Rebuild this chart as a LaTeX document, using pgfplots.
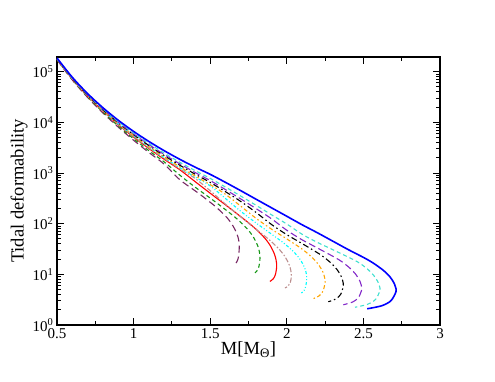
\documentclass[border=0pt]{standalone}
\usepackage{fontspec}
\setmainfont{Liberation Serif}
\usepackage{pgfplots}
\pgfplotsset{compat=1.18}

% grace-like palette
\definecolor{gmaroon}{RGB}{120,40,100}
\definecolor{ggreen}{RGB}{20,150,20}
\definecolor{gred}{RGB}{255,0,0}
\definecolor{gbrown}{RGB}{188,143,143}
\definecolor{gcyan}{RGB}{0,255,255}
\definecolor{gorange}{RGB}{255,165,0}
\definecolor{gviolet}{RGB}{130,40,200}
\definecolor{gturq}{RGB}{64,224,208}
\definecolor{gblue}{RGB}{0,0,255}

\begin{document}
\begin{tikzpicture}
\useasboundingbox (-57pt,-57pt) rectangle (438pt,325pt);
\begin{axis}[
    at={(0pt,0pt)}, anchor=south west,
    scale only axis, width=383pt, height=268pt,
    xmin=0.5, xmax=3, ymin=1, ymax=1.95e5, ymode=log,
    xtick={0.5,1,1.5,2,2.5,3}, xticklabels={0.5,1,1.5,2,2.5,3},
    minor x tick num=1,
    ytick={1,10,100,1000,10000,100000},
    yticklabels={10\textsuperscript{0},10\textsuperscript{1},10\textsuperscript{2},10\textsuperscript{3},10\textsuperscript{4},10\textsuperscript{5}},
    tick align=inside, tick pos=both,
    major tick length=7pt, minor tick length=4pt,
    every tick/.style={black, line width=0.9pt},
    axis line style={line width=1.2pt},
    ticklabel style={font=\fontsize{15}{15}\selectfont},
    label style={font=\fontsize{18.5}{20}\selectfont},
    xlabel={M[M\textsubscript{Θ}]},
    ylabel={Tidal deformability},
    xlabel style={at={(axis description cs:0.5,-0.093)}, anchor=center},
    ylabel style={at={(axis description cs:-0.099,0.5)}, anchor=center},
    every axis plot/.append style={smooth, line width=1.1pt},
]
% maroon, long dashed
\addplot[gmaroon, dash pattern=on 7pt off 4pt] coordinates {
(0.5,171000)(0.6,68500)(0.7,31000)(0.8,15300)(0.9,8040)(1.0,4430)(1.1,2540)(1.2,1490)
(1.3,745)(1.4,449)(1.45,347)(1.5,264)(1.54,211)(1.61,131)(1.65,89.1)(1.675,62.4)
(1.686,47.5)(1.69,35.5)(1.686,23.7)(1.679,19.1)(1.668,16.6)};
% green, dashed
\addplot[ggreen, dash pattern=on 4pt off 3pt] coordinates {
(0.5,174000)(0.6,70000)(0.7,31900)(0.8,15900)(0.9,8450)(1.0,4740)(1.1,2760)(1.2,1652)
(1.3,916)(1.4,530)(1.5,320)(1.6,189)(1.675,124)(1.745,76.9)(1.785,52.5)(1.81,36.7)
(1.821,28.0)(1.825,20.9)(1.819,14.7)(1.809,12.1)(1.792,10.7)};
% red, solid
\addplot[gred] coordinates {
(0.5,177000)(0.6,71600)(0.7,33000)(0.8,16700)(0.9,8990)(1.0,5120)(1.1,3040)(1.2,1862)
(1.3,1170)(1.4,682)(1.5,399)(1.6,235)(1.7,137)(1.784,85.5)(1.854,52.8)(1.894,36.1)
(1.919,25.2)(1.930,19.2)(1.934,14.4)(1.926,10.0)(1.912,8.18)(1.890,7.24)};
% brown, dash dot
\addplot[gbrown, dash pattern=on 5pt off 2pt on 1.5pt off 2pt] coordinates {
(0.5,177400)(0.6,72100)(0.7,33300)(0.8,16900)(0.9,9140)(1.0,5240)(1.1,3130)(1.2,1930)
(1.3,1219)(1.4,789)(1.5,447)(1.6,242)(1.7,136)(1.8,77.3)(1.88,49.7)(1.95,31.4)
(1.99,21.9)(2.015,15.6)(2.026,12.0)(2.030,9.12)(2.0226,6.89)(2.0092,5.90)(1.988,5.37)};
% cyan, dash dot dot
\addplot[gcyan, dash pattern=on 3pt off 2pt on 1pt off 2pt on 1pt off 2pt] coordinates {
(0.5,178500)(0.6,72800)(0.7,33700)(0.8,17200)(0.9,9350)(1.0,5380)(1.1,3240)(1.2,2010)
(1.3,1282)(1.4,838)(1.5,557)(1.6,313)(1.7,175)(1.8,103)(1.9,62.2)(1.98,41.4)
(2.05,26.9)(2.09,19.1)(2.115,13.8)(2.126,10.8)(2.130,8.32)(2.1238,5.83)(2.1127,4.81)(2.095,4.27)};
% orange, dash dot
\addplot[gorange, dash pattern=on 4pt off 2.5pt on 1.5pt off 2.5pt] coordinates {
(0.5,179300)(0.6,73300)(0.7,34000)(0.8,17400)(0.9,9520)(1.0,5510)(1.1,3330)(1.2,2080)
(1.3,1337)(1.4,879)(1.5,590)(1.6,380)(1.7,221)(1.8,127)(1.9,78.0)(2.0,50.0)
(2.1,31.5)(2.17,20.9)(2.21,15.1)(2.235,11.2)(2.246,8.86)(2.250,6.92)(2.2364,4.68)
(2.2119,3.78)(2.173,3.31)};
% black, long dash dot
\addplot[black, dash pattern=on 6pt off 3pt on 1.5pt off 3pt] coordinates {
(0.5,180700)(0.6,74100)(0.7,34700)(0.8,17800)(0.9,9820)(1.0,5730)(1.1,3490)(1.2,2210)
(1.3,1436)(1.4,957)(1.5,652)(1.6,427)(1.7,274)(1.8,166)(1.9,96.4)(2.0,60.7)
(2.1,40.5)(2.219,24.5)(2.289,16.7)(2.329,12.3)(2.354,9.25)(2.365,7.43)(2.369,5.89)
(2.3518,4.04)(2.3205,3.28)(2.271,2.88)};
% violet, long dashed
\addplot[gviolet, dash pattern=on 7pt off 3.5pt] coordinates {
(0.5,182000)(0.6,74800)(0.7,35200)(0.8,18200)(0.9,10070)(1.0,5920)(1.1,3640)(1.2,2320)
(1.3,1528)(1.4,1029)(1.5,710)(1.6,470)(1.7,307)(1.8,198)(1.9,125)(2.0,74.1)
(2.1,48.0)(2.2,33.1)(2.339,19.5)(2.409,13.5)(2.449,10.1)(2.474,7.69)(2.485,6.25)
(2.489,5.01)(2.4679,3.48)(2.4296,2.84)(2.369,2.51)};
% turquoise, dashed
\addplot[gturq, dash pattern=on 4pt off 3pt] coordinates {
(0.5,183500)(0.6,75700)(0.7,35700)(0.8,18600)(0.9,10380)(1.0,6160)(1.1,3830)(1.2,2470)
(1.3,1641)(1.4,1121)(1.5,783)(1.6,527)(1.7,350)(1.8,230)(1.9,150)(2.0,98.4)
(2.1,61.8)(2.2,42.6)(2.3,30.7)(2.458,17.9)(2.528,12.6)(2.568,9.46)(2.593,7.27)
(2.604,5.94)(2.608,4.79)(2.5793,3.20)(2.5273,2.56)(2.445,2.24)};
% blue, solid
\addplot[gblue, line width=1.6pt] coordinates {
(0.5,186200)(0.6,77400)(0.7,36900)(0.8,19400)(0.9,10990)(1.0,6620)(1.1,4190)(1.2,2754)
(1.3,1875)(1.4,1312)(1.5,942)(1.6,653)(1.7,447)(1.8,303)(1.9,206)(2.0,140)
(2.1,95.1)(2.2,66.1)(2.3,45.2)(2.4,30.9)(2.5,21.6)(2.563,16.8)(2.633,11.8)(2.673,8.95)
(2.698,6.90)(2.709,5.65)(2.713,4.57)(2.680,3.02)(2.620,2.40)(2.525,2.09)};
\end{axis}
\end{tikzpicture}
\end{document}
